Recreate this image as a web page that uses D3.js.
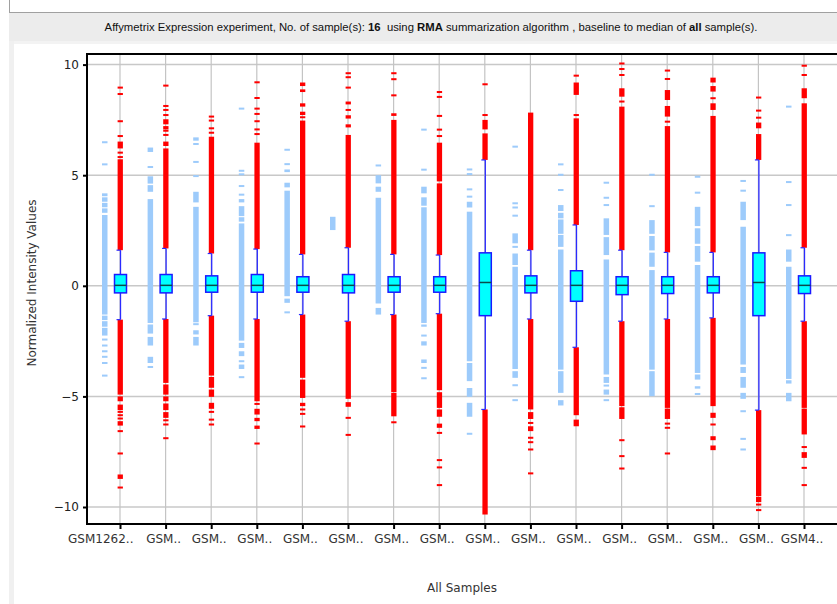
<!DOCTYPE html>
<html><head><meta charset="utf-8">
<script src="https://cdn.jsdelivr.net/npm/d3@7/dist/d3.min.js"></script>
<style>body{margin:0;background:#fff;} svg{display:block;font-family:"DejaVu Sans",sans-serif;}</style>
</head><body><svg id="c" width="837" height="604"></svg>
<script>
const samples = ["GSM1262..","GSM.. ","GSM..  ","GSM..   ","GSM..    ","GSM..     ","GSM..      ","GSM..       ","GSM..        ","GSM..         ","GSM..          ","GSM..           ","GSM..            ","GSM..             ","GSM..              ","GSM4.."];
const yTicks = [-10, -5, 0, 5, 10];

const whiskerLow  = [-1.53,-1.50,-1.35,-1.50,-1.30,-1.60,-1.30,-1.26,-5.59,-1.50,-2.78,-1.60,-1.50,-1.45,-5.62,-1.60];
const q1          = [-0.32,-0.32,-0.29,-0.29,-0.29,-0.32,-0.29,-0.29,-1.35,-0.32,-0.70,-0.40,-0.35,-0.32,-1.35,-0.35];
const median      = [0.02,0.02,0.02,0.02,0.02,0.02,0.02,0.02,0.15,0.02,0.02,0.02,0.02,0.02,0.15,0.02];
const q3          = [0.51,0.51,0.45,0.51,0.41,0.51,0.41,0.41,1.49,0.45,0.68,0.41,0.41,0.41,1.49,0.45];
const whiskerHigh = [1.61,1.69,1.46,1.66,1.42,1.72,1.42,1.39,5.69,1.61,2.75,1.61,1.51,1.51,5.69,1.72];

const redBlocks = [
  [[1.61,5.72],[6.21,6.52],[-4.92,-1.53],[-5.22,-5.0],[-5.62,-5.37],[-6.32,-6.12],[-8.73,-8.53]],
  [[1.69,6.21],[6.32,6.52],[7.07,7.22],[7.3,7.53],[-4.39,-1.5],[-4.92,-4.46],[-5.22,-5.0],[-5.62,-5.32],[-5.97,-5.71]],
  [[1.46,6.74],[-4.06,-1.35],[-4.61,-4.12],[-5.02,-4.69],[-5.56,-5.29]],
  [[1.66,6.47],[-5.22,-1.5],[-5.82,-5.56],[-6.12,-5.97],[-6.47,-6.32]],
  [[1.42,7.47],[7.72,7.87],[8.1,8.25],[8.76,8.88],[9.03,9.19],[-4.16,-1.3],[-5.07,-4.24],[-5.44,-5.29]],
  [[1.72,6.82],[7.16,7.3],[7.56,7.71],[8.2,8.33],[-5.11,-1.6],[-5.47,-5.26]],
  [[1.42,7.5],[7.68,7.8],[-4.81,-1.3],[-5.9,-4.84]],
  [[1.39,4.63],[4.72,6.47],[-4.72,-1.26],[-5.52,-4.81],[-5.92,-5.59],[-6.42,-6.23]],
  [[5.69,6.89],[7.07,7.5],[-10.34,-5.59]],
  [[1.61,7.83],[-5.59,-1.5],[-6.02,-5.71],[-6.57,-6.35]],
  [[2.75,7.57],[8.63,9.19],[-5.85,-2.78],[-6.35,-6.05]],
  [[1.61,8.1],[8.55,8.93],[-5.44,-1.6],[-6.02,-5.49]],
  [[1.51,7.22],[7.65,8.13],[8.4,8.85],[-5.52,-1.5],[-6.02,-5.55]],
  [[1.51,7.68],[7.95,8.25],[8.78,9.03],[9.19,9.41],[-5.44,-1.45],[-5.97,-5.74],[-6.98,-6.8],[-7.43,-7.22]],
  [[5.69,6.86],[7.12,7.38],[-9.51,-5.62],[-9.78,-9.54]],
  [[1.72,8.25],[8.48,8.93],[-5.52,-1.6],[-6.72,-5.55],[-7.78,-7.52]]
];
const redDashes = [
  [5.82,6.02,6.77,7.44,8.67,8.96,-5.7,-5.85,-6.0,-6.57,-7.58,-9.12],
  [6.82,7.01,7.72,7.95,8.13,9.05,-6.08,-6.27,-6.89],
  [6.92,7.12,7.47,7.65,-5.7,-6.05,-6.27],
  [6.86,7.07,7.44,7.77,8.01,8.49,9.2,-5.34,-7.13],
  [7.62,-5.59,-5.79,-6.36],
  [7.95,8.96,9.43,9.61,-5.97,-6.74],
  [8.61,9.34,9.61,-6.17],
  [6.77,7.06,7.68,8.54,8.76,-6.65,-7.88,-8.21,-9.01],
  [7.72,9.11],
  [-6.2,-6.87,-7.07,-7.4,-8.48],
  [7.72,9.5],
  [8.33,9.53,9.8,10.05,-6.98,-7.7,-8.26],
  [7.42,9.35,9.73,-6.23,-6.42,-7.58],
  [8.48,-6.27],
  [7.6,7.92,8.51,-9.89,-10.14],
  [9.53,9.95,-7.29,-8.23,-9.01]
];
const blueBlocks = [
  [[-1.30,3.2],[3.3,3.5],[3.55,3.75],[3.8,4.0],[4.05,4.18],[-1.55,-1.35],[-1.85,-1.6],[-2.25,-1.9]],
  [[-1.68,3.92],[4.25,4.55],[4.62,4.95],[6.05,6.25],[-2.16,-1.75],[-2.7,-2.31],[-3.49,-3.21]],
  [[-1.65,3.57],[3.77,4.25],[6.56,6.71],[-1.78,-1.7],[-2.2,-2.01],[-2.7,-2.31]],
  [[-2.48,2.82],[2.9,3.1],[3.15,3.6],[3.77,3.92],[-2.81,-2.58],[-3.18,-2.96],[-3.76,-3.56]],
  [[-0.47,4.3],[4.45,4.66],[5.14,5.26],[-0.77,-0.58]],
  [[2.52,3.12]],
  [[-0.8,3.98],[4.25,4.48],[4.63,5.0],[-1.3,-1.0]],
  [[-1.68,3.55],[3.62,4.0],[4.18,4.48],[-1.85,-1.75],[-2.7,-2.51],[-3.49,-3.33]],
  [[-3.41,3.35],[3.54,3.8],[-4.31,-3.49],[-5.02,-4.62],[-5.92,-5.29]],
  [[-3.76,0.86],[0.94,1.46],[1.92,2.37],[-4.16,-3.86],[-4.54,-4.47]],
  [[-3.79,1.64],[1.76,2.3],[2.35,3.0],[3.05,3.3],[3.38,3.65],[-4.84,-3.86],[-5.41,-5.17]],
  [[-4.01,1.19],[1.39,2.2],[2.3,3.05],[-4.39,-4.12],[-4.92,-4.69]],
  [[-3.79,0.71],[0.86,1.5],[1.6,2.25],[2.35,2.97],[-4.99,-3.86]],
  [[-3.94,0.94],[1.09,1.8],[1.9,2.6],[2.7,3.57],[-4.24,-4.01],[-4.65,-4.54]],
  [[-3.56,2.67],[2.97,3.8],[-3.94,-3.67],[-4.61,-4.12],[-5.11,-4.84]],
  [[-4.21,0.86],[1.09,1.64],[-4.42,-4.27],[-5.22,-4.84]]
];
const blueDashes = [
  [5.49,6.49,-2.43,-2.70,-2.96,-3.21,-3.49,-4.06],
  [5.37,-3.67],
  [4.96,5.6,6.41],
  [4.12,4.51,5.04,5.2,8.01,-3.41,-4.13],
  [5.5,6.15,-1.2],
  [],
  [5.44],
  [5.25,7.06,-2.25,-3.71,-4.18],
  [4.03,4.36,5.05,5.26,-6.69],
  [1.76,3.17,3.54,3.73,6.29,-5.17],
  [4.33,5.02,5.49],
  [3.65,3.98,4.66,-4.51,-5.17],
  [3.6,5.02],
  [4.21,4.93,-4.89],
  [4.3,4.74,-5.67,-6.92,-7.4],
  [2.29,3.65,4.69,8.1]
];

const W = 837, H = 604;
const L = 87, R = 837, T = 54, B = 524;
const svg = d3.select("#c");

// frame decoration
svg.append("rect").attr("x", 9).attr("y", 12).attr("width", W - 9).attr("height", 29).attr("fill", "#ececec");
svg.append("line").attr("x1", 9).attr("x2", W).attr("y1", 12.5).attr("y2", 12.5).attr("stroke", "#a0a0a0");
svg.append("line").attr("x1", 9.5).attr("x2", 9.5).attr("y1", 0).attr("y2", 12.5).attr("stroke", "#a0a0a0");
svg.append("rect").attr("x", 9).attr("y", 41).attr("width", W - 9).attr("height", 3).attr("fill", "#f3f3f3");
svg.append("rect").attr("x", 9).attr("y", 41).attr("width", 5).attr("height", H - 41).attr("fill", "#f0f0f0");

// header
const head = svg.append("text").attr("x", 431).attr("y", 31).attr("text-anchor", "middle")
  .attr("font-family", "Liberation Sans, Arial, sans-serif").attr("font-size", 11.3).attr("fill", "#111");
const parts = [["Affymetrix Expression experiment, No. of sample(s): ", false], ["16", true], ["  using ", false], ["RMA", true],
  [" summarization algorithm , baseline to median of ", false], ["all", true], [" sample(s).", false]];
parts.forEach(p => head.append("tspan").attr("font-weight", p[1] ? "bold" : "normal").attr("xml:space", "preserve").text(p[0]));

const x = d3.scalePoint().domain(samples).range([L, R]).padding(0.7237);
const y = d3.scaleLinear().domain([-10, 10]).range([507.0, 64.6]);

const defs = svg.append("defs");
defs.append("clipPath").attr("id", "clip").append("rect").attr("x", L).attr("y", T).attr("width", R - L).attr("height", B - T);
const g = svg.append("g").attr("clip-path", "url(#clip)");

// gridlines
g.selectAll(".hg").data(yTicks).join("line").attr("x1", L).attr("x2", R)
  .attr("y1", d => y(d)).attr("y2", d => y(d)).attr("stroke", "#c8c8c8").attr("stroke-width", 1.5);
g.selectAll(".vg").data(samples).join("line").attr("y1", T).attr("y2", B)
  .attr("x1", d => x(d)).attr("x2", d => x(d)).attr("stroke", "#c4c4c4").attr("stroke-width", 1.2);

function marks(blocks, dashes, dx, w, color) {
  const items = [];
  samples.forEach((s, i) => {
    blocks[i].forEach(b => items.push({ cx: x(s), lo: b[0], hi: b[1] }));
    dashes[i].forEach(v => items.push({ cx: x(s), lo: v, hi: v }));
  });
  g.append("g").selectAll("rect").data(items).join("rect")
    .attr("x", d => d.cx + dx).attr("width", w)
    .attr("y", d => Math.min(y(d.hi), y(d.lo) - 2) + (d.hi === d.lo ? 1 : 0))
    .attr("height", d => Math.max(2, y(d.lo) - y(d.hi)))
    .attr("fill", color);
}
marks(blueBlocks, blueDashes, -18, 5.5, "#9dcbfb");
marks(redBlocks, redDashes, -2.4, 5.3, "#ff0000");

// whiskers and boxes
const bx = g.append("g");
samples.forEach((s, i) => {
  const cx = x(s);
  bx.append("line").attr("x1", cx + 0.5).attr("x2", cx + 0.5).attr("y1", y(whiskerHigh[i])).attr("y2", y(q3[i])).attr("stroke", "#2a2aff").attr("stroke-width", 1.3);
  bx.append("line").attr("x1", cx + 0.5).attr("x2", cx + 0.5).attr("y1", y(q1[i])).attr("y2", y(whiskerLow[i])).attr("stroke", "#2a2aff").attr("stroke-width", 1.3);
  bx.append("line").attr("x1", cx - 3.5).attr("x2", cx + 0.5).attr("y1", y(whiskerHigh[i])).attr("y2", y(whiskerHigh[i])).attr("stroke", "#2a2aff").attr("stroke-width", 1.2);
  bx.append("line").attr("x1", cx - 3.5).attr("x2", cx + 0.5).attr("y1", y(whiskerLow[i])).attr("y2", y(whiskerLow[i])).attr("stroke", "#2a2aff").attr("stroke-width", 1.2);
  bx.append("rect").attr("x", cx - 5.5).attr("width", 12).attr("y", y(q3[i])).attr("height", y(q1[i]) - y(q3[i]))
    .attr("fill", "#00ffff").attr("stroke", "#1a1aff").attr("stroke-width", 1.5);
  bx.append("line").attr("x1", cx - 5.5).attr("x2", cx + 6.5).attr("y1", y(median[i])).attr("y2", y(median[i])).attr("stroke", "#0a4a4a").attr("stroke-width", 1.5);
});

// axes
const yAxis = d3.axisLeft(y).tickValues(yTicks).tickSize(4).tickPadding(4);
const ya = svg.append("g").attr("transform", `translate(${L},0)`).call(yAxis);
ya.select(".domain").remove();
ya.selectAll(".tick line").attr("stroke", "#000").attr("stroke-width", 2);
ya.selectAll(".tick text").attr("font-size", 12).attr("font-family", "DejaVu Sans").attr("fill", "#222");

const xAxis = d3.axisBottom(x).tickSize(5).tickPadding(5).tickFormat(d => d.trim());
const xa = svg.append("g").attr("transform", `translate(0,${B})`).call(xAxis);
xa.select(".domain").remove();
xa.selectAll(".tick line").attr("stroke", "#000").attr("stroke-width", 2);
xa.selectAll(".tick text").attr("font-size", 12).attr("font-family", "DejaVu Sans").attr("fill", "#333")
  .attr("dx", -2.5);
// the first (long) label is truncated in the original and sits left of its tick
xa.selectAll(".tick text").filter((d, i) => i === 0).attr("text-anchor", "end").attr("dx", 0).attr("x", 13);

svg.append("line").attr("x1", L).attr("x2", R).attr("y1", T).attr("y2", T).attr("stroke", "#000").attr("stroke-width", 2);
svg.append("line").attr("x1", L).attr("x2", R).attr("y1", B).attr("y2", B).attr("stroke", "#000").attr("stroke-width", 2);
svg.append("line").attr("x1", L).attr("x2", L).attr("y1", T - 1).attr("y2", B + 1).attr("stroke", "#000").attr("stroke-width", 2);

svg.append("text").attr("transform", "translate(36,283) rotate(-90)").attr("text-anchor", "middle")
  .attr("font-size", 12).attr("fill", "#333").text("Normalized Intensity Values");
svg.append("text").attr("x", 462).attr("y", 592).attr("text-anchor", "middle")
  .attr("font-size", 12).attr("fill", "#333").text("All Samples");
</script></body></html>
